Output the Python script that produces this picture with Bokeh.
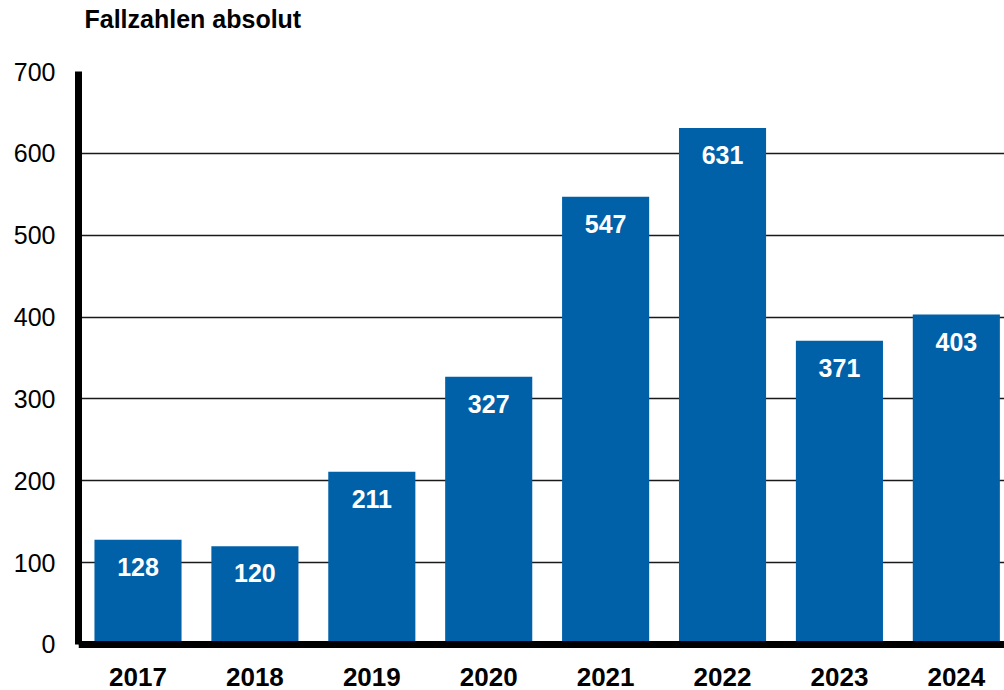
from bokeh.plotting import figure
from bokeh.models import ColumnDataSource, Range1d, FixedTicker, Title, Span
from bokeh.embed import file_html
from bokeh.resources import INLINE
from bokeh.core.properties import value

# ---- data ----
years = ["2017", "2018", "2019", "2020", "2021", "2022", "2023", "2024"]
cases = [128, 120, 211, 327, 547, 631, 371, 403]
y_ticks = [0, 100, 200, 300, 400, 500, 600, 700]
title_text = "Fallzahlen absolut"

FONT = "Liberation Sans"
BAR = "#0061A8"

xs = list(range(len(years)))
src = ColumnDataSource(dict(x=xs, top=cases, label=[str(c) for c in cases], year=years,
                            zero=[0] * len(years)))

p = figure(width=1004, height=690, output_backend="svg", toolbar_location=None,
           x_range=Range1d(-0.509, 7.412), y_range=Range1d(-56.2, 700),
           x_axis_location=None,
           min_border_left=78, min_border_right=0, min_border_top=71, min_border_bottom=0,
           outline_line_color=None, background_fill_color="white", border_fill_color="white")

# title (outermost) and a spacer panel between it and the frame
p.title.text = title_text
p.title.align = "left"
p.title.offset = 6
p.title.text_font = FONT
p.title.text_font_size = "25px"
p.title.text_font_style = "bold"
p.title.text_color = "black"
p.title.standoff = 0
p.add_layout(Title(text=" ", text_font_size="1px", standoff=36), "above")

# grid
p.xgrid.visible = False
p.ygrid.ticker = FixedTicker(ticks=y_ticks)
p.ygrid.grid_line_color = "#1a1a1a"
p.ygrid.grid_line_width = 1.5

# y axis
ax = p.yaxis[0]
ax.ticker = FixedTicker(ticks=y_ticks)
ax.bounds = (0, 700)
ax.axis_line_width = 7
ax.axis_line_color = "black"
ax.major_tick_out = 0
ax.major_tick_in = 0
ax.minor_tick_out = 0
ax.minor_tick_in = 0
ax.major_label_standoff = 23
ax.major_label_text_font = FONT
ax.major_label_text_font_size = "25px"
ax.major_label_text_color = "black"

# bars
p.vbar(x="x", top="top", bottom=0, width=0.745, source=src, fill_color=BAR, line_color=None)

# bottom axis line
p.add_layout(Span(location=0, dimension="width", line_color="black", line_width=7))

# value labels
p.text(x="x", y="top", text="label", source=src, text_color="white",
       text_font=value(FONT), text_font_size="25px", text_font_style="bold",
       text_align="center", text_baseline="top", y_offset=18)

# year labels
p.text(x="x", y="zero", text="year", source=src, text_color="black",
       text_font=value(FONT), text_font_size="26px", text_font_style="bold",
       text_align="center", text_baseline="top", y_offset=24)

open("out.html", "w").write(file_html(p, INLINE))
